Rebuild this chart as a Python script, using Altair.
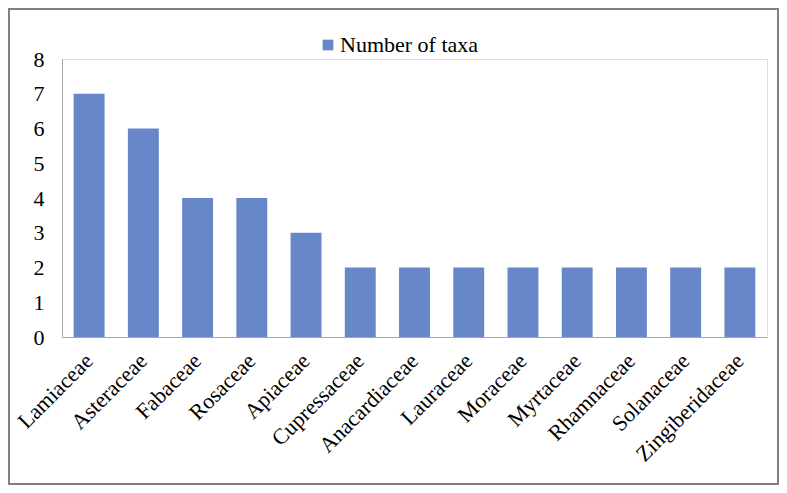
import altair as alt
import pandas as pd

families = ["Lamiaceae", "Asteraceae", "Fabaceae", "Rosaceae", "Apiaceae",
            "Cupressaceae", "Anacardiaceae", "Lauraceae", "Moraceae",
            "Myrtaceae", "Rhamnaceae", "Solanaceae", "Zingiberidaceae"]
taxa = [7, 6, 4, 4, 3, 2, 2, 2, 2, 2, 2, 2, 2]
series = "Number of taxa"

df = pd.DataFrame({"family": families, "taxa": taxa, "series": [series] * len(families)})

FONT = "Liberation Serif"
BAR = "#6787c9"

bars = alt.Chart(df).mark_bar(color=BAR).encode(
    x=alt.X("family:N", sort=families, title=None,
            scale=alt.Scale(paddingInner=0.43, paddingOuter=0.215),
            axis=alt.Axis(labelAngle=-45, labelAlign="right", labelBaseline="middle",
                          labelPadding=20, ticks=False, domainColor="#a6a6a6",
                          labelFont=FONT, labelFontSize=22, labelColor="#000000",
                          labelOverlap=False, labelLimit=300)),
    y=alt.Y("taxa:Q", title=None,
            scale=alt.Scale(domain=[0, 8], nice=False),
            axis=alt.Axis(values=list(range(0, 9)), grid=False, ticks=False,
                          domainColor="#a6a6a6", labelPadding=18,
                          labelFont=FONT, labelFontSize=22, labelColor="#000000")),
    fill=alt.Fill("series:N", scale=alt.Scale(range=[BAR]),
                  legend=alt.Legend(title=None, orient="none", legendX=255, legendY=-25,
                                    symbolType="square", symbolSize=115,
                                    symbolStrokeWidth=0,
                                    labelFont=FONT, labelFontSize=22, labelColor="#000000",
                                    labelOffset=1)),
)

border = alt.Chart(df).mark_rect(fill=None, stroke="#7f7f7f", strokeWidth=1.5).encode(
    x=alt.value(-53.5), x2=alt.value(716.5), y=alt.value(-50.5), y2=alt.value(425.5)
)

chart = alt.layer(bars, border).properties(
    width=705, height=278,
    autosize=alt.AutoSizeParams(type="none"),
    padding={"left": 54, "top": 51, "right": 12, "bottom": 148},
).configure_view(stroke=None).configure(background="white")

chart.save("out.html", embed_options={"renderer": "svg", "actions": False})
